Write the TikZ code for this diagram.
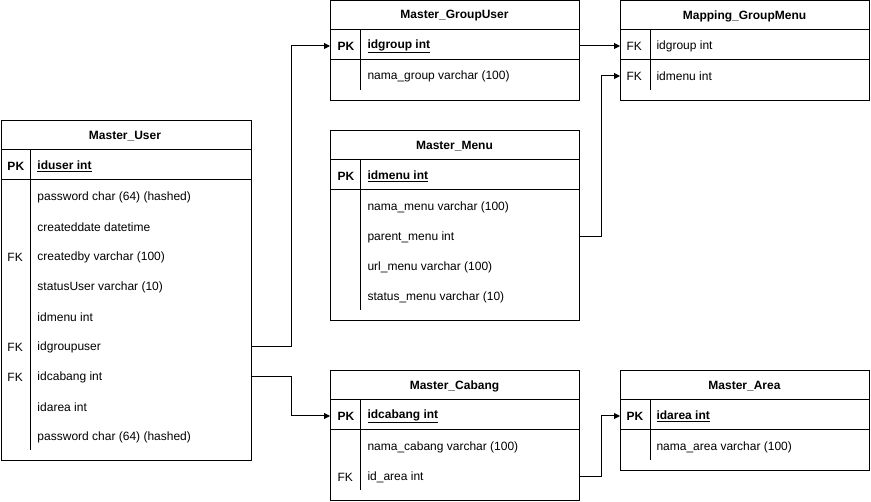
\documentclass[tikz,border=0pt]{standalone}
\usepackage{fontspec}
\setmainfont{Liberation Sans}
\usetikzlibrary{arrows.meta}

\begin{document}
\begin{tikzpicture}[x=1pt, y=-1pt, line width=1pt,
  tbl/.style={draw, anchor=north west, inner sep=0, minimum width=#1}, tbl/.default=249,
  title/.style={anchor=center, yshift=-1pt, font=\fontsize{12}{14}\selectfont\bfseries},
  pk/.style={anchor=west, inner sep=0, yshift=-1pt, font=\fontsize{12}{14}\selectfont\bfseries},
  fk/.style={anchor=west, inner sep=0, yshift=-1pt, font=\fontsize{12}{14}\selectfont},
  field/.style={anchor=west, inner sep=0, yshift=-1pt, font=\fontsize{12}{14}\selectfont},
  link/.style={-{Triangle[length=6pt, width=6pt]}, line width=1pt}]

\useasboundingbox (0,0) rectangle (871,502);

% Master_User
\node [tbl=250, minimum height=340] (user) at (0.5,120) {};
\node [title] at (125,135) {Master\_User};
\draw (0.5,150) -- (250.5,150);
\draw (0.5,180) -- (250.5,180);
\draw (30,150) -- (30,450);
\node [pk] at (7,165) {PK};
\node [pk] (user-pk) at (37,165) {\underline{iduser int}};
\node [field] at (37,196) {password char (64) (hashed)};
\node [field] at (37,226) {createddate datetime};
\node [fk] at (7,256) {FK};
\node [field] at (37,256) {createdby varchar (100)};
\node [field] at (37,286) {statusUser varchar (10)};
\node [field] at (37,316) {idmenu int};
\node [fk] at (7,346) {FK};
\node [field] (user-grp) at (37,346) {idgroupuser};
\node [fk] at (7,376) {FK};
\node [field] (user-cab) at (37,376) {idcabang int};
\node [field] at (37,406) {idarea int};
\node [field] at (37,436) {password char (64) (hashed)};

% Master_GroupUser
\node [tbl, minimum height=100] (grp) at (330,0.5) {};
\node [title] at (454.5,15) {Master\_GroupUser};
\draw (330,30) -- (579,30);
\draw (330,60) -- (579,60);
\draw (360,30) -- (360,90);
\node [pk] at (337,45) {PK};
\node [pk] (grp-pk) at (367,45) {\underline{idgroup int}};
\node [field] at (367,75) {nama\_group varchar (100)};

% Mapping_GroupMenu
\node [tbl, minimum height=100] (map) at (620,0.5) {};
\node [title] at (744.5,15) {Mapping\_GroupMenu};
\draw (620,30) -- (869,30);
\draw (620,60) -- (869,60);
\draw (650,30) -- (650,90);
\node [fk] at (626,45) {FK};
\node [field] (map-grp) at (656,45) {idgroup int};
\node [fk] at (626,75) {FK};
\node [field] (map-menu) at (656,75) {idmenu int};

% Master_Menu
\node [tbl, minimum height=190] (menu) at (330,130) {};
\node [title] at (454.5,145) {Master\_Menu};
\draw (330,160) -- (579,160);
\draw (330,190) -- (579,190);
\draw (360,160) -- (360,310);
\node [pk] at (337,175) {PK};
\node [pk] (menu-pk) at (367,175) {\underline{idmenu int}};
\node [field] at (367,206) {nama\_menu varchar (100)};
\node [field] (menu-parent) at (367,236) {parent\_menu int};
\node [field] at (367,266) {url\_menu varchar (100)};
\node [field] at (367,296) {status\_menu varchar (10)};

% Master_Cabang
\node [tbl, minimum height=130] (cab) at (330,370) {};
\node [title] at (454.5,385) {Master\_Cabang};
\draw (330,400) -- (579,400);
\draw (330,430) -- (579,430);
\draw (360,400) -- (360,490);
\node [pk] at (337,415) {PK};
\node [pk] (cab-pk) at (367,415) {\underline{idcabang int}};
\node [field] at (367,446) {nama\_cabang varchar (100)};
\node [fk] at (337,476) {FK};
\node [field] (cab-area) at (367,476) {id\_area int};

% Master_Area
\node [tbl, minimum height=100] (area) at (620,370) {};
\node [title] at (744.5,385) {Master\_Area};
\draw (620,400) -- (869,400);
\draw (620,430) -- (869,430);
\draw (650,400) -- (650,460);
\node [pk] at (626,415) {PK};
\node [pk] (area-pk) at (656,415) {\underline{idarea int}};
\node [field] at (656,446) {nama\_area varchar (100)};

% relations
\draw [link] (user-grp -| user.east) -- ++(40,0) |- (grp-pk -| grp.west);
\draw [link] (user-cab -| user.east) -- ++(40,0) |- (cab-pk -| cab.west);
\draw [link] (grp-pk -| grp.east) -- (map-grp -| map.west);
\draw [link] (menu-parent -| menu.east) -- ++(21,0) |- (map-menu -| map.west);
\draw [link] (cab-area -| cab.east) -- ++(21,0) |- (area-pk -| area.west);

\end{tikzpicture}
\end{document}
